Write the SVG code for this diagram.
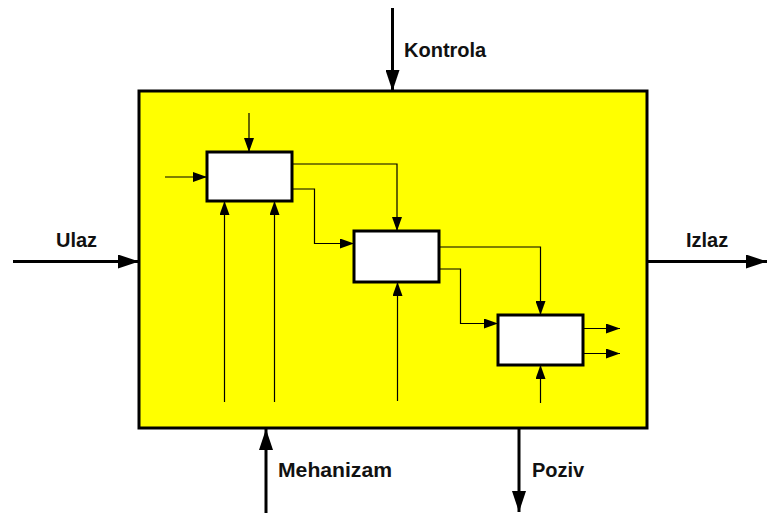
<svg xmlns="http://www.w3.org/2000/svg" width="768" height="513" viewBox="0 0 768 513">
  <style>
    .label { font-family: "Liberation Sans", Arial, sans-serif; font-weight: bold; font-size: 20px; fill: #111; }
    .outer { fill: #FFFF00; stroke: #000; stroke-width: 3; }
    .act { fill: #fff; stroke: #000; stroke-width: 3; }
    .flow { fill: none; stroke: #000; stroke-width: 3; marker-end: url(#bigArrow); }
    .inner { fill: none; stroke: #000; stroke-width: 1.2; }
    .innerA { fill: none; stroke: #000; stroke-width: 1.2; marker-end: url(#smallArrow); }
  </style>
  <defs>
    <marker id="bigArrow" markerUnits="userSpaceOnUse" markerWidth="21" markerHeight="14" refX="21" refY="7" orient="auto">
      <path d="M0,0 L21,7 L0,14 Z" fill="#000"/>
    </marker>
    <marker id="smallArrow" markerUnits="userSpaceOnUse" markerWidth="14" markerHeight="10" refX="14" refY="5" orient="auto">
      <path d="M0,0 L14,5 L0,10 Z" fill="#000"/>
    </marker>
  </defs>

  <rect width="768" height="513" fill="#fff"/>

  <!-- enclosing function box -->
  <g id="function">
    <rect class="outer" x="139" y="91" width="508" height="337"/>
  </g>

  <!-- sub-activities -->
  <g id="activity1">
    <rect class="act" x="207" y="152" width="85" height="49"/>
  </g>
  <g id="activity2">
    <rect class="act" x="354" y="231" width="85" height="51"/>
  </g>
  <g id="activity3">
    <rect class="act" x="498" y="315" width="85" height="50"/>
  </g>

  <g id="connectors">
    <!-- external ICOM arrows -->
    <line class="flow" x1="392.5" y1="8" x2="392.5" y2="91"/>
    <line class="flow" x1="13" y1="261.5" x2="139" y2="261.5"/>
    <line class="flow" x1="647" y1="261.5" x2="767" y2="261.5"/>
    <line class="flow" x1="266" y1="513" x2="266" y2="429"/>
    <line class="flow" x1="519" y1="429" x2="519" y2="512"/>

    <!-- activity 1 -->
    <line class="innerA" x1="249" y1="113" x2="249" y2="152"/>
    <line class="innerA" x1="165" y1="177" x2="207" y2="177"/>
    <line class="innerA" x1="224.5" y1="402" x2="224.5" y2="201"/>
    <line class="innerA" x1="274.5" y1="402" x2="274.5" y2="201"/>

    <!-- activity 1 to activity 2 -->
    <polyline class="innerA" points="292,164 397,164 397,231"/>
    <polyline class="innerA" points="292,189 314.5,189 314.5,243.5 354,243.5"/>
    <line class="innerA" x1="397.5" y1="401" x2="397.5" y2="282"/>

    <!-- activity 2 to activity 3 -->
    <polyline class="innerA" points="439,247 540.5,247 540.5,315"/>
    <polyline class="innerA" points="439,269 460.5,269 460.5,323.5 498,323.5"/>
    <line class="innerA" x1="540.5" y1="403" x2="540.5" y2="365"/>

    <!-- activity 3 outputs -->
    <line class="innerA" x1="583" y1="328.5" x2="620" y2="328.5"/>
    <line class="innerA" x1="583" y1="353.5" x2="620" y2="353.5"/>
  </g>

  <g id="labels">
    <text class="label" x="404" y="57">Kontrola</text>
    <text class="label" x="56" y="247">Ulaz</text>
    <text class="label" x="686" y="247">Izlaz</text>
    <text class="label" x="278" y="477" textLength="114" lengthAdjust="spacingAndGlyphs">Mehanizam</text>
    <text class="label" x="532" y="477">Poziv</text>
  </g>
</svg>
